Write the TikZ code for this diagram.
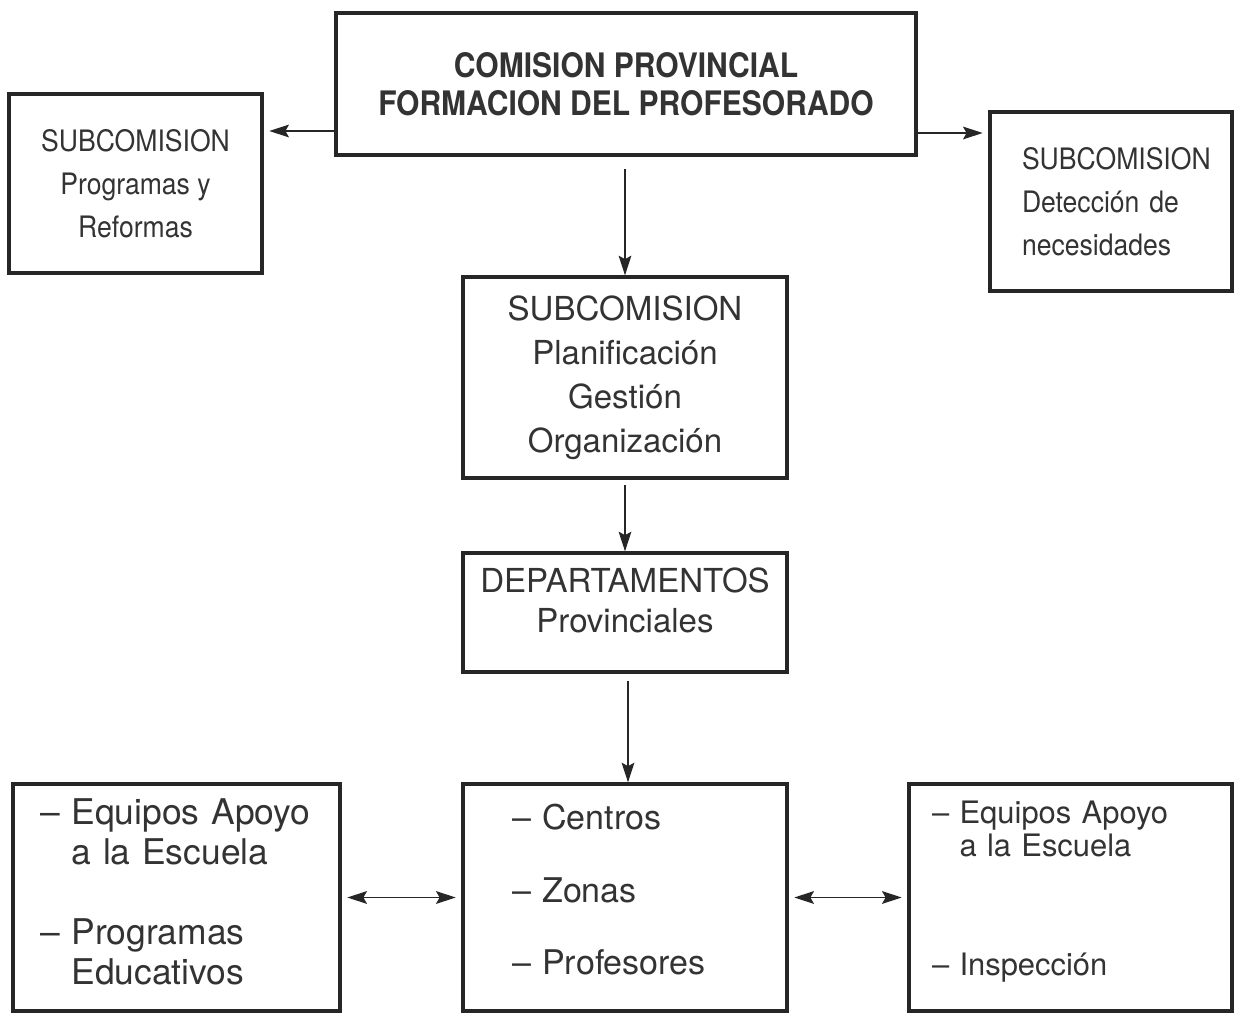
\documentclass[tikz,border=0pt]{standalone}
\usepackage{fontspec}
\setmainfont{TeX Gyre Heros}
\newfontfamily\narrowfont[FakeStretch=0.9]{TeX Gyre Heros}
\newfontfamily\titlefont[FakeStretch=0.89]{TeX Gyre Heros}
\usetikzlibrary{positioning,arrows.meta}

\begin{document}
\begin{tikzpicture}[
    every node/.style={text=black!80},
    box/.style={rectangle, draw=black!85, line width=2.3pt, align=center, inner sep=0pt},
    titletext/.style={font=\titlefont\bfseries\fontsize{24}{27}\selectfont},
    narrowtext/.style={font=\narrowfont\fontsize{21}{30.8}\selectfont},
    plaintext/.style={font=\fontsize{23.5}{31.3}\selectfont},
    listbox/.style={box, align=left, minimum height=5.675cm},
    arrow/.style={-{Stealth[length=14pt, width=9pt, inset=2.5pt]}, line width=1.3pt, draw=black!85},
    twoarrow/.style={{Stealth[length=14pt, width=9pt, inset=2.5pt]}-{Stealth[length=14pt, width=9pt, inset=2.5pt]}, line width=1.3pt, draw=black!85}
]

% Page frame
\useasboundingbox (0,0) rectangle (30.85,-25.325);

% Commission (top)
\node[box, titletext, minimum width=14.5cm, minimum height=3.55cm] (comision) at (15.65,-2.1)
    {COMISION PROVINCIAL\\FORMACION DEL PROFESORADO};

% Side subcommissions
\node[box, narrowtext, minimum width=6.325cm, minimum height=4.475cm] (subprog) at (3.3875,-4.5875)
    {SUBCOMISION\\Programas y\\Reformas};
\node[box, narrowtext, align=left, text width=4.45cm, inner xsep=0.8cm, minimum height=4.475cm] (subdet) at (27.775,-5.0375)
    {SUBCOMISION\\Detección de\\necesidades};

% Central column
\node[box, plaintext, minimum width=8.1cm, minimum height=5.025cm] (subplan) at (15.625,-9.4375)
    {SUBCOMISION\\Planificación\\Gestión\\Organización};
\node[box, font=\fontsize{23.5}{28.5}\selectfont, text depth=17pt, minimum width=8.1cm, minimum height=2.975cm] (deptos) at (15.625,-15.3125)
    {DEPARTAMENTOS\\Provinciales};

% Bottom row
\node[listbox, font=\fontsize{25.2}{28.5}\selectfont, text depth=122.6pt, text width=6.825cm, inner xsep=0.675cm] (equipos) at (4.4125,-22.4375)
    {-- Equipos Apoyo\\\phantom{-- }a la Escuela\\[28.5pt]-- Programas\\\phantom{-- }Educativos};
\node[listbox, font=\fontsize{24.2}{29}\selectfont, text depth=114.6pt, text width=5.65cm, inner xsep=1.225cm] (centros) at (15.625,-22.4375)
    {-- Centros\\[22.6pt]-- Zonas\\[22.6pt]-- Profesores};
\node[listbox, font=\fontsize{22}{23.5}\selectfont, text depth=120.7pt, text width=6.925cm, inner xsep=0.575cm] (apoyo) at (26.7625,-22.4375)
    {-- Equipos Apoyo\\\phantom{-- }a la Escuela\\[60.5pt]-- Inspección};

% Arrows from the commission
\draw[arrow, shorten >=4pt] ([yshift=-1.175cm]comision.west) -- ([yshift=-1.175cm]comision.west -| subprog.east);
\draw[arrow, shorten >=4pt] ([yshift=-1.225cm]comision.east) -- ([yshift=-1.225cm]comision.east -| subdet.west);
\draw[arrow, shorten <=9pt] (subplan.north |- comision.south) -- (subplan.north);

% Down the central column
\draw[arrow, shorten <=4pt] (subplan) -- (deptos);
\draw[arrow, shorten <=5pt] ([xshift=0.075cm]deptos.south) -- ([xshift=0.075cm]centros.north);

% Two-way links in the bottom row
\draw[twoarrow, shorten <=4pt, shorten >=4pt] (equipos) -- (centros);
\draw[twoarrow, shorten <=4pt, shorten >=4pt] (centros) -- (apoyo);

\end{tikzpicture}
\end{document}
